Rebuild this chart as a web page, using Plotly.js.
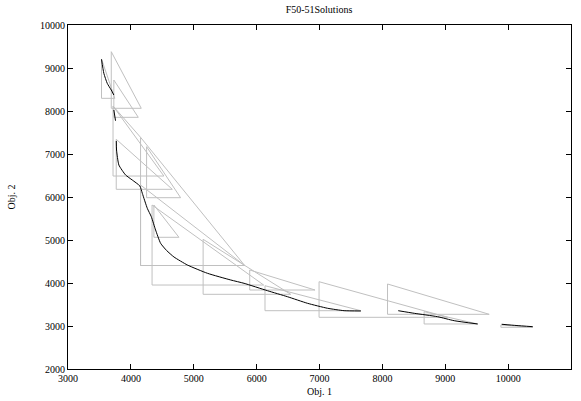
<!DOCTYPE html>
<html>
<head>
<meta charset="utf-8">
<script src="https://cdn.plot.ly/plotly-3.0.1.min.js"></script>
<style>html,body{margin:0;padding:0;background:#fff;}#chart{width:581px;height:401px;}</style>
</head>
<body>
<div id="chart"></div>
<script>
// Triangles: left x, top y, bottom y, right x
const triLeft   = [3533, 3688, 3729, 3716, 3767, 4250, 4154, 4154, 4337, 4366, 5149, 5890, 6133, 6993, 8082, 8664, 9885];
const triTop    = [9209, 9379, 8721, 8116, 7342, 7170, 7388, 6279, 5814, 5814, 5016, 4302, 3937, 4030, 3977, 3333, 3023];
const triBottom = [8295, 8063, 7853, 6488, 6179, 5984, 4407, 4407, 3953, 5063, 3737, 3837, 3356, 3202, 3272, 3047, 2970];
const triRight  = [3745, 4165, 4118, 4525, 4659, 4791, 5810, 5810, 6112, 4764, 6542, 6929, 7657, 9037, 9699, 9514, 10390];

// Extra connecting edge
const linkX = [3716, 4154];
const linkY = [8116, 7388];

// Solution curve segments
const seg1X = [3533, 3570, 3624, 3688, 3729];
const seg1Y = [9202, 8877, 8644, 8488, 8372];
const seg2X = [3729, 3756];
const seg2Y = [8023, 7774];
const seg3X = [3768, 3772, 3809, 3916, 4022, 4143, 4182, 4261, 4325, 4393, 4473, 4568, 4685, 4898, 5217, 5588, 5800, 6172, 6491, 6809, 7128, 7392, 7658];
const seg3Y = [7302, 7093, 6744, 6512, 6395, 6256, 6086, 5737, 5542, 5233, 4923, 4756, 4605, 4419, 4226, 4070, 3993, 3821, 3681, 3528, 3412, 3356, 3349];
const seg4X = [8252, 8507, 8879, 9143, 9516];
const seg4Y = [3356, 3295, 3216, 3123, 3047];
const seg5X = [9898, 10126, 10392];
const seg5Y = [3040, 3012, 2984];

const xTicks = [3000, 4000, 5000, 6000, 7000, 8000, 9000, 10000, 11000];
const yTicks = [2000, 3000, 4000, 5000, 6000, 7000, 8000, 9000, 10000];

const gray = 'rgb(192,192,192)';
const traces = [];
for (let i = 0; i < triLeft.length; i++) {
  traces.push({
    type: 'scatter', mode: 'lines', hoverinfo: 'skip',
    x: [triLeft[i], triLeft[i], triRight[i], triLeft[i]],
    y: [triTop[i], triBottom[i], triBottom[i], triTop[i]],
    line: {color: gray, width: 1}
  });
}
traces.push({type: 'scatter', mode: 'lines', hoverinfo: 'skip', x: linkX, y: linkY, line: {color: gray, width: 1}});
[[seg1X, seg1Y], [seg2X, seg2Y], [seg3X, seg3Y], [seg4X, seg4Y], [seg5X, seg5Y]].forEach(s => {
  traces.push({
    type: 'scatter', mode: 'lines', hoverinfo: 'skip',
    x: s[0], y: s[1], line: {color: '#000', width: 1, shape: 'spline', smoothing: 0.5}
  });
});

const font = {family: '"Liberation Serif", "DejaVu Serif", serif', size: 10, color: '#000'};
const axisCommon = {
  showgrid: false, zeroline: false, showline: true, linecolor: '#000', linewidth: 1,
  mirror: 'allticks', ticks: 'inside', ticklen: 5, tickcolor: '#000', tickwidth: 1,
  tickfont: font
};
const layout = {
  width: 581, height: 401,
  margin: {l: 68, r: 10, t: 25, b: 32},
  paper_bgcolor: '#fff', plot_bgcolor: '#fff',
  showlegend: false,
  font: font,
  title: {text: 'F50-51Solutions', font: font, x: 0.549, xanchor: 'center', y: 0.985, yanchor: 'top'},
  xaxis: Object.assign({}, axisCommon, {
    range: [3000, 11000], tickvals: xTicks, ticktext: xTicks.map(String),
    title: {text: 'Obj. 1', font: font, standoff: 4}
  }),
  yaxis: Object.assign({}, axisCommon, {
    range: [2000, 10000], tickvals: yTicks, ticktext: yTicks.map(String),
    title: {text: 'Obj. 2', font: font, standoff: 22}
  })
};
Plotly.newPlot('chart', traces, layout, {displayModeBar: false, staticPlot: true});
</script>
</body>
</html>
